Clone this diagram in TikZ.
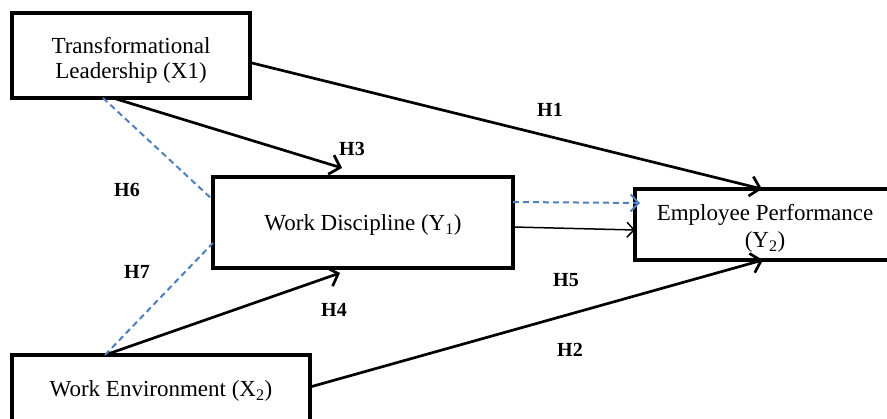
\documentclass[tikz,border=0pt]{standalone}
\usepackage{fontspec}
\setmainfont{Liberation Serif}
\usetikzlibrary{arrows.meta}
\definecolor{dashblue}{HTML}{4F81BD}
\newcommand\boxtxt[2]{\raisebox{#1}[\height][\depth]{\begin{tabular}{@{}c@{}}#2\end{tabular}}}
\begin{document}
\begin{tikzpicture}[x=1pt,y=-1pt,
  box/.style={draw,line width=4.5pt,inner sep=0pt,outer sep=0pt,fill=white,
    font=\fontsize{23}{25}\selectfont},
  arr/.style={line width=2.7pt,-{Straight Barb[length=9.5pt,width=20pt]}},
  thinarr/.style={line width=1.5pt,-{Straight Barb[length=7pt,width=15pt]}},
  dasharr/.style={dashblue,line width=2pt,dash pattern=on 6pt off 4pt,-{Straight Barb[length=8pt,width=17pt]}},
  dashln/.style={dashblue,line width=2pt,dash pattern=on 6pt off 4pt},
  hlab/.style={font=\bfseries\fontsize{20}{20}\selectfont,inner sep=0pt}
]
\useasboundingbox (0,0) rectangle (887,419);
\clip (0,0) rectangle (887,419);
\fill[white] (0,0) rectangle (887,419);

\node[box,minimum width=238pt,minimum height=85pt] (tl) at (131,55.5)
  {\boxtxt{-5.5pt}{Transformational\\Leadership (X1)}};
\node[box,minimum width=300pt,minimum height=91pt] (wd) at (363,222.5)
  {\boxtxt{-3.5pt}{Work Discipline (Y\textsubscript{1})}};
\node[box,minimum width=260pt,minimum height=71pt] (ep) at (765,224.5)
  {\boxtxt{-4.5pt}{Employee Performance\\[2pt](Y\textsubscript{2})}};
\node[box,minimum width=298pt,text height=42pt,text depth=50pt,anchor=north] (we) at (161,355)
  {Work Environment (X\textsubscript{2})};

% connectors
\draw[arr] ([yshift=-7pt]tl.east) -- ([xshift=-3pt]ep.north);
\draw[arr] ([xshift=-18pt]tl.south) -- ([xshift=-21pt,yshift=9pt]wd.north);
\draw[arr] ([xshift=-56pt]we.north) -- ([xshift=-23pt,yshift=-5pt]wd.south);
\draw[arr] ([yshift=14pt]we.east) -- ([xshift=-2pt]ep.south);
\draw[thinarr] ([yshift=-4.5pt]wd.east) -- ([yshift=-5.5pt]ep.west);
\draw[dasharr] ([yshift=20.5pt]wd.east) -- ([xshift=5pt,yshift=21.5pt]ep.west);
\draw[dashln] ([xshift=-28pt]tl.south) -- ([yshift=22.5pt]wd.west);
\draw[dashln] ([xshift=-56pt]we.north) -- ([yshift=-20.5pt]wd.west);

% labels
\node[hlab] (h1) at (550,110) {H1};
\node[hlab] (h3) at (352,149) {H3};
\node[hlab] (h6) at (127,190) {H6};
\node[hlab] (h7) at (137,272) {H7};
\node[hlab] (h4) at (334,310) {H4};
\node[hlab] (h5) at (566,280) {H5};
\node[hlab] (h2) at (570,350) {H2};
\end{tikzpicture}
\end{document}
